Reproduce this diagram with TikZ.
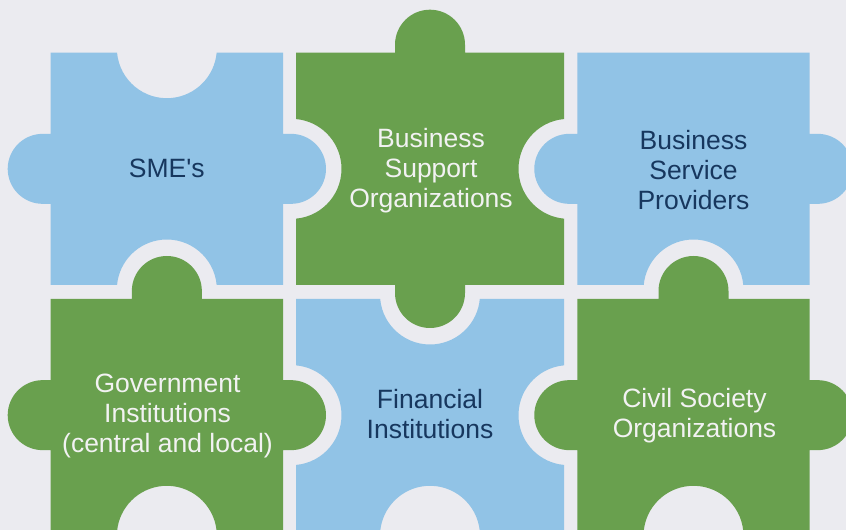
\documentclass[tikz,border=0pt]{standalone}
\usepackage{fontspec}
\setmainfont{Liberation Sans}
\definecolor{pzbg}{HTML}{EBEBF0}
\definecolor{pzblue}{HTML}{91C3E6}
\definecolor{pzgreen}{HTML}{69A04E}
\definecolor{pzdark}{HTML}{17375E}
\definecolor{pzlight}{HTML}{F2F2F2}
% edge segments: knob (K) / notch (N) on top, right, bottom, left
\newcommand\pzTK[2]{-- ({#1-35},#2) -- ({#1-35},{#2+8}) arc[start angle=180,end angle=0,radius=35] -- ({#1+35},#2)}
\newcommand\pzTN[2]{-- ({#1-49.8},#2) arc[start angle=185.16,end angle=354.84,radius=50]}
\newcommand\pzRK[2]{-- (#1,{#2+35}) -- ({#1+8},{#2+35}) arc[start angle=90,end angle=-90,radius=35] -- (#1,{#2-35})}
\newcommand\pzRN[2]{-- (#1,{#2+49.8}) arc[start angle=95.16,end angle=264.84,radius=50]}
\newcommand\pzBK[2]{-- ({#1+35},#2) -- ({#1+35},{#2-8}) arc[start angle=0,end angle=-180,radius=35] -- ({#1-35},#2)}
\newcommand\pzBN[2]{-- ({#1+49.8},#2) arc[start angle=5.16,end angle=174.84,radius=50]}
\newcommand\pzLK[2]{-- (#1,{#2-35}) -- ({#1-8},{#2-35}) arc[start angle=270,end angle=90,radius=35] -- (#1,{#2+35})}
\newcommand\pzLN[2]{-- (#1,{#2-49.8}) arc[start angle=-84.84,end angle=84.84,radius=50]}
\begin{document}
\begin{tikzpicture}[x=1pt,y=1pt,
  bluepiece/.style={fill=pzblue},
  greenpiece/.style={fill=pzgreen},
  pzlabel/.style={align=center,font=\fontsize{26.5}{30}\selectfont},
  darklabel/.style={pzlabel,text=pzdark},
  lightlabel/.style={pzlabel,text=pzlight}]
\useasboundingbox (0,0) rectangle (846,530);
\fill[pzbg] (0,0) rectangle (846,530);
\clip (0,0) rectangle (846,530);
% columns: 50.7-283 | 296-564 | 577.3-809.7 ; rows: 245-477.3 | -1.3-231
% SME's
\fill[bluepiece] (50.7,477.3) \pzTN{166.85}{477.3} -- (283,477.3) \pzRK{283}{361.15} -- (283,245) \pzBN{166.85}{245} -- (50.7,245) \pzLK{50.7}{361.15} -- cycle;
% Business Support Organizations
\fill[greenpiece] (296,477.3) \pzTK{430}{477.3} -- (564,477.3) \pzRN{564}{361.15} -- (564,245) \pzBK{430}{245} -- (296,245) \pzLN{296}{361.15} -- cycle;
% Business Service Providers
\fill[bluepiece] (577.3,477.3) -- (809.7,477.3) \pzRK{809.7}{361.15} -- (809.7,245) \pzBN{693.5}{245} -- (577.3,245) \pzLK{577.3}{361.15} -- cycle;
% Government Institutions
\fill[greenpiece] (50.7,231) \pzTK{166.85}{231} -- (283,231) \pzRK{283}{114.85} -- (283,-1.3) \pzBN{166.85}{-1.3} -- (50.7,-1.3) \pzLK{50.7}{114.85} -- cycle;
% Financial Institutions
\fill[bluepiece] (296,231) \pzTN{430}{231} -- (564,231) \pzRN{564}{114.85} -- (564,-1.3) \pzBN{430}{-1.3} -- (296,-1.3) \pzLN{296}{114.85} -- cycle;
% Civil Society Organizations
\fill[greenpiece] (577.3,231) \pzTK{693.5}{231} -- (809.7,231) \pzRK{809.7}{114.85} -- (809.7,-1.3) \pzBN{693.5}{-1.3} -- (577.3,-1.3) \pzLK{577.3}{114.85} -- cycle;
% labels
\node[darklabel] (sme) at (166.85,361.15) {SME\textquotesingle s};
\node[lightlabel] (bso) at (431,359.6) {Business\\Support\\Organizations};
\node[darklabel] (bsp) at (693.5,359.6) {Business\\Service\\Providers};
\node[lightlabel] (gov) at (167.5,113.6) {Government\\Institutions\\(central and local)};
\node[darklabel] (fin) at (430,116) {Financial\\Institutions};
\node[lightlabel] (cso) at (694.5,114) {Civil Society\\Organizations};
\end{tikzpicture}
\end{document}
